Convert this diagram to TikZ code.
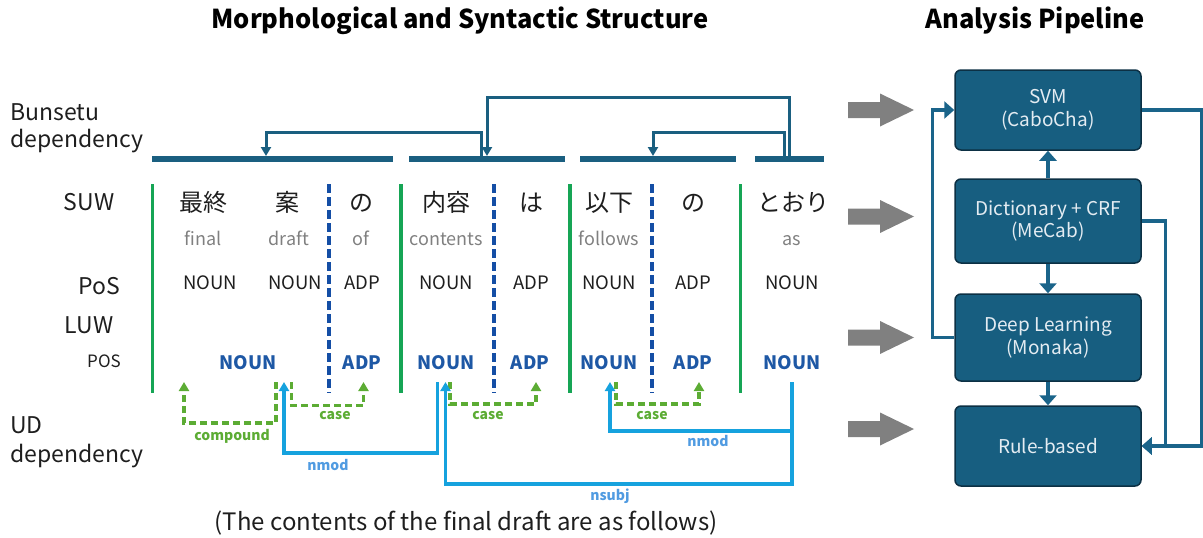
\documentclass[tikz,border=0pt]{standalone}
\usepackage{fontspec}
\setmainfont{Noto Sans CJK JP}
\usetikzlibrary{arrows.meta,calc}
\definecolor{depcol}{RGB}{26,95,128}
\definecolor{sepgreen}{RGB}{22,165,85}
\definecolor{sepblue}{RGB}{20,78,165}
\definecolor{posblue}{RGB}{30,88,165}
\definecolor{udgreen}{RGB}{92,172,52}
\definecolor{udblue}{RGB}{22,162,222}
\definecolor{udlabel}{RGB}{80,155,225}
\definecolor{glossgray}{RGB}{128,128,128}
\definecolor{boxfill}{RGB}{23,94,128}
\definecolor{boxdraw}{RGB}{12,48,68}
\definecolor{boxtext}{RGB}{228,236,242}
\definecolor{fatgray}{RGB}{128,128,128}
\definecolor{pipecol}{RGB}{26,100,138}
\definecolor{txt}{RGB}{30,30,30}
\begin{document}
\begin{tikzpicture}[x=1pt,y=-1pt,
  every node/.style={inner sep=0pt},
  ttl/.style={font=\fontsize{26}{30}\selectfont\bfseries, anchor=base, text=black},
  lab/.style={font=\fontsize{23}{27}\selectfont, anchor=base, text=txt},
  jw/.style={font=\fontsize{24}{28}\selectfont, anchor=base, text=txt},
  gloss/.style={font=\fontsize{18}{20}\selectfont, anchor=base, text=glossgray},
  posn/.style={font=\fontsize{18.5}{21}\selectfont, anchor=base, text=txt},
  luw/.style={font=\fontsize{18.5}{21}\selectfont\bfseries, anchor=base, text=posblue},
  rel/.style={font=\fontsize{14}{16}\selectfont\bfseries, anchor=base},
  bar/.style={line width=6pt, draw=depcol},
  bdep/.style={line width=3pt, draw=depcol, -{Triangle[width=10pt,length=9pt]}},
  gsep/.style={line width=3.2pt, draw=sepgreen},
  bsep/.style={line width=3.5pt, draw=sepblue, dash pattern=on 9pt off 4pt},
  udg/.style={line width=3.2pt, draw=udgreen, dash pattern=on 7pt off 4pt, -{Triangle[width=10pt,length=9pt]}},
  udb/.style={line width=3.2pt, draw=udblue, -{Triangle[width=10pt,length=9pt]}},
  pbox/.style={draw=boxdraw, line width=1.5pt, fill=boxfill, rounded corners=6pt,
     minimum width=186pt, text=boxtext, align=center,
     font=\fontsize{19}{22.5}\selectfont},
  parr/.style={line width=3.2pt, draw=pipecol, -{Triangle[width=17pt,length=10pt]}},
  fat/.style={fill=fatgray}
]
\useasboundingbox (0,0) rectangle (1203,538);

% titles
\node[ttl,xscale=0.98] (t1) at (460,28) {Morphological and Syntactic Structure};
\node[ttl,xscale=0.98] (t2) at (1035,28) {Analysis Pipeline};

% left labels
\node[lab,anchor=base west] (lbun) at (10,120) {Bunsetu};
\node[lab,anchor=base west] (ldep1) at (10,147) {dependency};
\node[lab] (lsuw) at (89,210) {SUW};
\node[lab] (lpos) at (99,294) {PoS};
\node[lab] (lluw) at (89,333) {LUW};
\node[lab,font=\fontsize{17}{20}\selectfont] (lpos2) at (104,367) {POS};
\node[lab,anchor=base west] (lud) at (10,433) {UD};
\node[lab,anchor=base west] (ldep2) at (10,462) {dependency};

% bunsetu bars
\coordinate (b1s) at (152,159); \coordinate (b1e) at (393,159);
\coordinate (b2s) at (409,159); \coordinate (b2e) at (565,159);
\coordinate (b3s) at (580,159); \coordinate (b3e) at (736,159);
\coordinate (b4s) at (755,159); \coordinate (b4e) at (824,159);
\draw[bar] (b1s) -- (b1e);
\draw[bar] (b2s) -- (b2e);
\draw[bar] (b3s) -- (b3e);
\draw[bar] (b4s) -- (b4e);

% bunsetu dependencies
\coordinate (d1f) at (481,156); \coordinate (d1t) at (266,156);
\coordinate (d2f) at (789,156); \coordinate (d2t) at (487,156);
\coordinate (d3f) at (784,156); \coordinate (d3t) at (653,156);
\draw[bdep] (d1f) -- ++(0,-24) -| (d1t);
\draw[bdep] (d2f) -- ++(0,-59) -| (d2t);
\draw[bdep] (d3f) -- ++(0,-24) -| (d3t);

% separators
\foreach \i/\x in {1/152.5,2/401,3/570,4/740.5}{
  \coordinate (g\i t) at (\x,184); \coordinate (g\i b) at (\x,393);
  \draw[gsep] (g\i t) -- (g\i b);
}
\foreach \i/\x in {1/329,2/494,3/652}{
  \coordinate (s\i t) at (\x,184); \coordinate (s\i b) at (\x,393);
  \draw[bsep] (s\i t) -- (s\i b);
}

% SUW words
\node[jw] (w1) at (203,211) {最終};
\node[jw] (w2) at (287,211) {案};
\node[jw] (w3) at (361,211) {の};
\node[jw] (w4) at (446,211) {内容};
\node[jw] (w5) at (531,211) {は};
\node[jw] (w6) at (609,211) {以下};
\node[jw] (w7) at (693,211) {の};
\node[jw] (w8) at (793,211) {とおり};

% glosses
\node[gloss] (e1) at (203,245) {final};
\node[gloss] (e2) at (289,245) {draft};
\node[gloss] (e3) at (361,245) {of};
\node[gloss] (e4) at (446,245) {contents};
\node[gloss] (e6) at (609,245) {follows};
\node[gloss] (e8) at (792,245) {as};

% SUW PoS
\node[posn] (p1) at (210,289) {NOUN};
\node[posn] (p2) at (295,289) {NOUN};
\node[posn] (p3) at (362,289) {ADP};
\node[posn] (p4) at (446,289) {NOUN};
\node[posn] (p5) at (531,289) {ADP};
\node[posn] (p6) at (609,289) {NOUN};
\node[posn] (p7) at (693,289) {ADP};
\node[posn] (p8) at (792,289) {NOUN};

% LUW POS
\node[luw] (l1) at (248,369) {NOUN};
\node[luw] (l2) at (362,369) {ADP};
\node[luw] (l3) at (446,369) {NOUN};
\node[luw] (l4) at (530,369) {ADP};
\node[luw] (l5) at (609,369) {NOUN};
\node[luw] (l6) at (693,369) {ADP};
\node[luw] (l7) at (792,369) {NOUN};

% UD dependencies
\coordinate (cmpF) at (276,382); \coordinate (cmpT) at (184,382);
\coordinate (c1F) at (291.5,382); \coordinate (c1T) at (363.5,382);
\coordinate (c2F) at (450,382); \coordinate (c2T) at (536,382);
\coordinate (c3F) at (616,382); \coordinate (c3T) at (699,382);
\draw[udg] (cmpF) -- ++(0,41) -| (cmpT);
\draw[udg] (c1F) -- ++(0,23.5) -| (c1T);
\draw[udg] (c2F) -- ++(0,22) -| (c2T);
\draw[udg] (c3F) -- ++(0,22) -| (c3T);
\coordinate (n1F) at (437.5,382); \coordinate (n1T) at (284,382);
\coordinate (nsF) at (792,382); \coordinate (nsT) at (445.5,382);
\coordinate (n2F) at (792,431); \coordinate (n2T) at (610,382);
\draw[udb] (n1F) -- ++(0,71) -| (n1T);
\draw[udb] (nsF) -- ++(0,102) -| (nsT);
\draw[udb] (n2F) -| (n2T);

\node[rel,text=udgreen] (rcmp) at (232,440) {compound};
\node[rel,text=udgreen] (rc1) at (335,419) {case};
\node[rel,text=udgreen] (rc2) at (488,419) {case};
\node[rel,text=udgreen] (rc3) at (652,419) {case};
\node[rel,text=udlabel] (rn1) at (328,470) {nmod};
\node[rel,text=udlabel] (rn2) at (708,446) {nmod};
\node[rel,text=udlabel] (rns) at (610,500) {nsubj};

% caption
\node[lab,font=\fontsize{24}{28}\selectfont] (cap) at (466,530) {(The contents of the final draft are as follows)};

% fat arrows
\foreach \y in {110,216.5,337.5,429}{
  \fill[fat] (848,\y-8) -- (880,\y-8) -- (880,\y-16.5) -- (914,\y) -- (880,\y+16.5) -- (880,\y+8) -- (848,\y+8) -- cycle;
}

% pipeline boxes
\node[pbox,minimum height=80pt] (svm) at (1048,110) {SVM\\(CaboCha)};
\node[pbox,minimum height=84pt] (dict) at (1048,221) {Dictionary + CRF\\(MeCab)};
\node[pbox,minimum height=87pt] (deep) at (1048,337.5) {Deep Learning\\(Monaka)};
\node[pbox,minimum height=80pt] (rule) at (1048,446) {Rule-based};

\draw[parr] (dict.north) -- (svm.south);
\draw[parr] (dict.south) -- (deep.north);
\draw[parr] (deep.south) -- (rule.north);
\draw[parr] (deep.west) -- ++(-22,0) |- (svm.west);
\draw[parr] (svm.east) -- ++(60,0) |- (rule.east);
\draw[parr] (dict.east) -- ++(24,0) |- (rule.east);
\end{tikzpicture}
\end{document}
